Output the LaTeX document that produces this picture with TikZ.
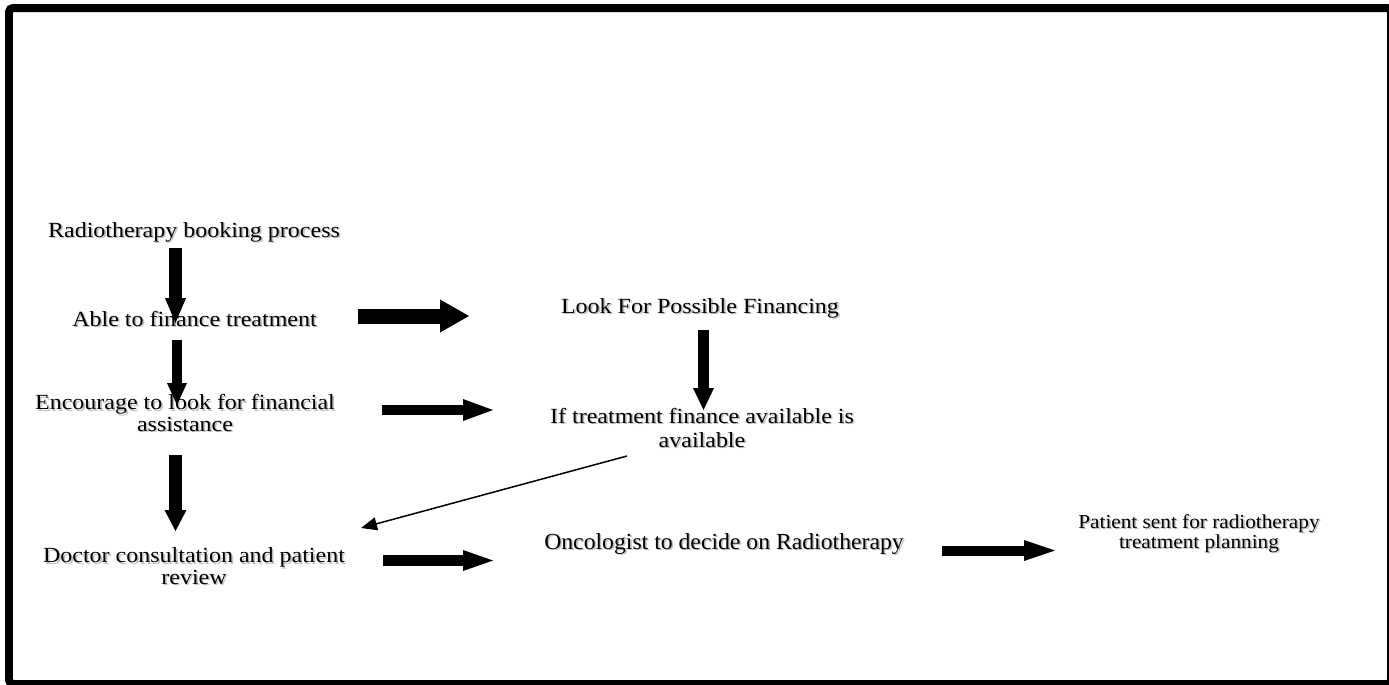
\documentclass[tikz,border=0pt]{standalone}
\usepackage{fontspec}
\usetikzlibrary{arrows.meta}
\newfontfamily\flowfont[FakeStretch=1.11]{Liberation Serif}
\newfontfamily\oncofont[FakeStretch=1.03]{Liberation Serif}
\newfontfamily\planfont[FakeStretch=1.07]{Liberation Serif}
% soft grey shadow under each line of text
\newcommand\shtext[1]{\rlap{\kern0.9pt\raisebox{-0.9pt}{\textcolor{black!25}{#1}}}#1}

\begin{document}
\begin{tikzpicture}[x=0.02cm, y=-0.02cm,
    flowtext/.style={align=center, inner sep=0pt, anchor=base,
                     font=\flowfont\fontsize{12.3}{12.2}\selectfont},
    fat/.style args={#1/#2/#3}{line width=#1,
                     -{Triangle[width=#2, length=#3, line width=0pt]}},
    slimarrow/.style={line width=0.85pt, -{Triangle[width=0.26cm, length=0.32cm]}},
  ]
  \useasboundingbox (0,0) rectangle (1389,684);

  % Frame
  \draw[line width=0.16cm, rounded corners=0.08cm] (9,8) rectangle (1391,684);

  % Left column (base = last line)
  \node[flowtext] (book) at (194,237) {\shtext{Radiotherapy booking process}};
  \node[flowtext] (able) at (194.5,326) {\shtext{Able to finance treatment}};
  \node[flowtext] (encourage) at (185,431)
    {\shtext{Encourage to look for financial}\\\shtext{assistance}};
  \node[flowtext] (doctor) at (194,584)
    {\shtext{Doctor consultation and patient}\\\shtext{review}};

  % Middle column
  \node[flowtext] (lookfor) at (700,313) {\shtext{Look For Possible Financing}};
  \node[flowtext, font=\flowfont\fontsize{12.3}{13.6}\selectfont] (ifavail) at (702,447)
    {\shtext{If treatment finance available is}\\\shtext{available}};
  \node[flowtext, font=\oncofont\fontsize{13.1}{13.1}\selectfont] (oncol) at (724,549)
    {\shtext{Oncologist to decide on Radiotherapy}};

  % Right
  \node[flowtext, font=\planfont\fontsize{11.3}{11.3}\selectfont] (planning) at (1199,548)
    {\shtext{Patient sent for radiotherapy}\\\shtext{treatment planning}};

  % Arrow ends
  \coordinate (bookS) at (175.5,248);   \coordinate (ableN) at (175.5,323);
  \coordinate (ableS) at (177,340);     \coordinate (encN) at (177,405);
  \coordinate (encS) at (175.5,455);    \coordinate (docN) at (175.5,531);
  \coordinate (ableE) at (358,316);     \coordinate (lookW) at (469,316);
  \coordinate (encE) at (382,410);      \coordinate (ifW) at (493,410);
  \coordinate (lookS) at (703.5,330);   \coordinate (ifN) at (703.5,410);
  \coordinate (docE) at (383,560.5);    \coordinate (oncW) at (493,560.5);
  \coordinate (oncE) at (942,550.5);    \coordinate (planW) at (1055,550.5);
  \coordinate (ifS) at (627,456);       \coordinate (docNE) at (361,528);

  % Block arrows
  \draw[fat=0.26cm/0.42cm/0.5cm] (bookS) -- (ableN);
  \draw[fat=0.2cm/0.4cm/0.44cm] (ableS) -- (encN);
  \draw[fat=0.26cm/0.44cm/0.42cm] (encS) -- (docN);
  \draw[fat=0.3cm/0.66cm/0.58cm] (ableE) -- (lookW);
  \draw[fat=0.2cm/0.44cm/0.6cm] (encE) -- (ifW);
  \draw[fat=0.22cm/0.42cm/0.44cm] (lookS) -- (ifN);
  \draw[fat=0.22cm/0.42cm/0.6cm] (docE) -- (oncW);
  \draw[fat=0.2cm/0.42cm/0.62cm] (oncE) -- (planW);

  % Back to the doctor
  \draw[slimarrow] (ifS) -- (docNE);

\end{tikzpicture}
\end{document}
